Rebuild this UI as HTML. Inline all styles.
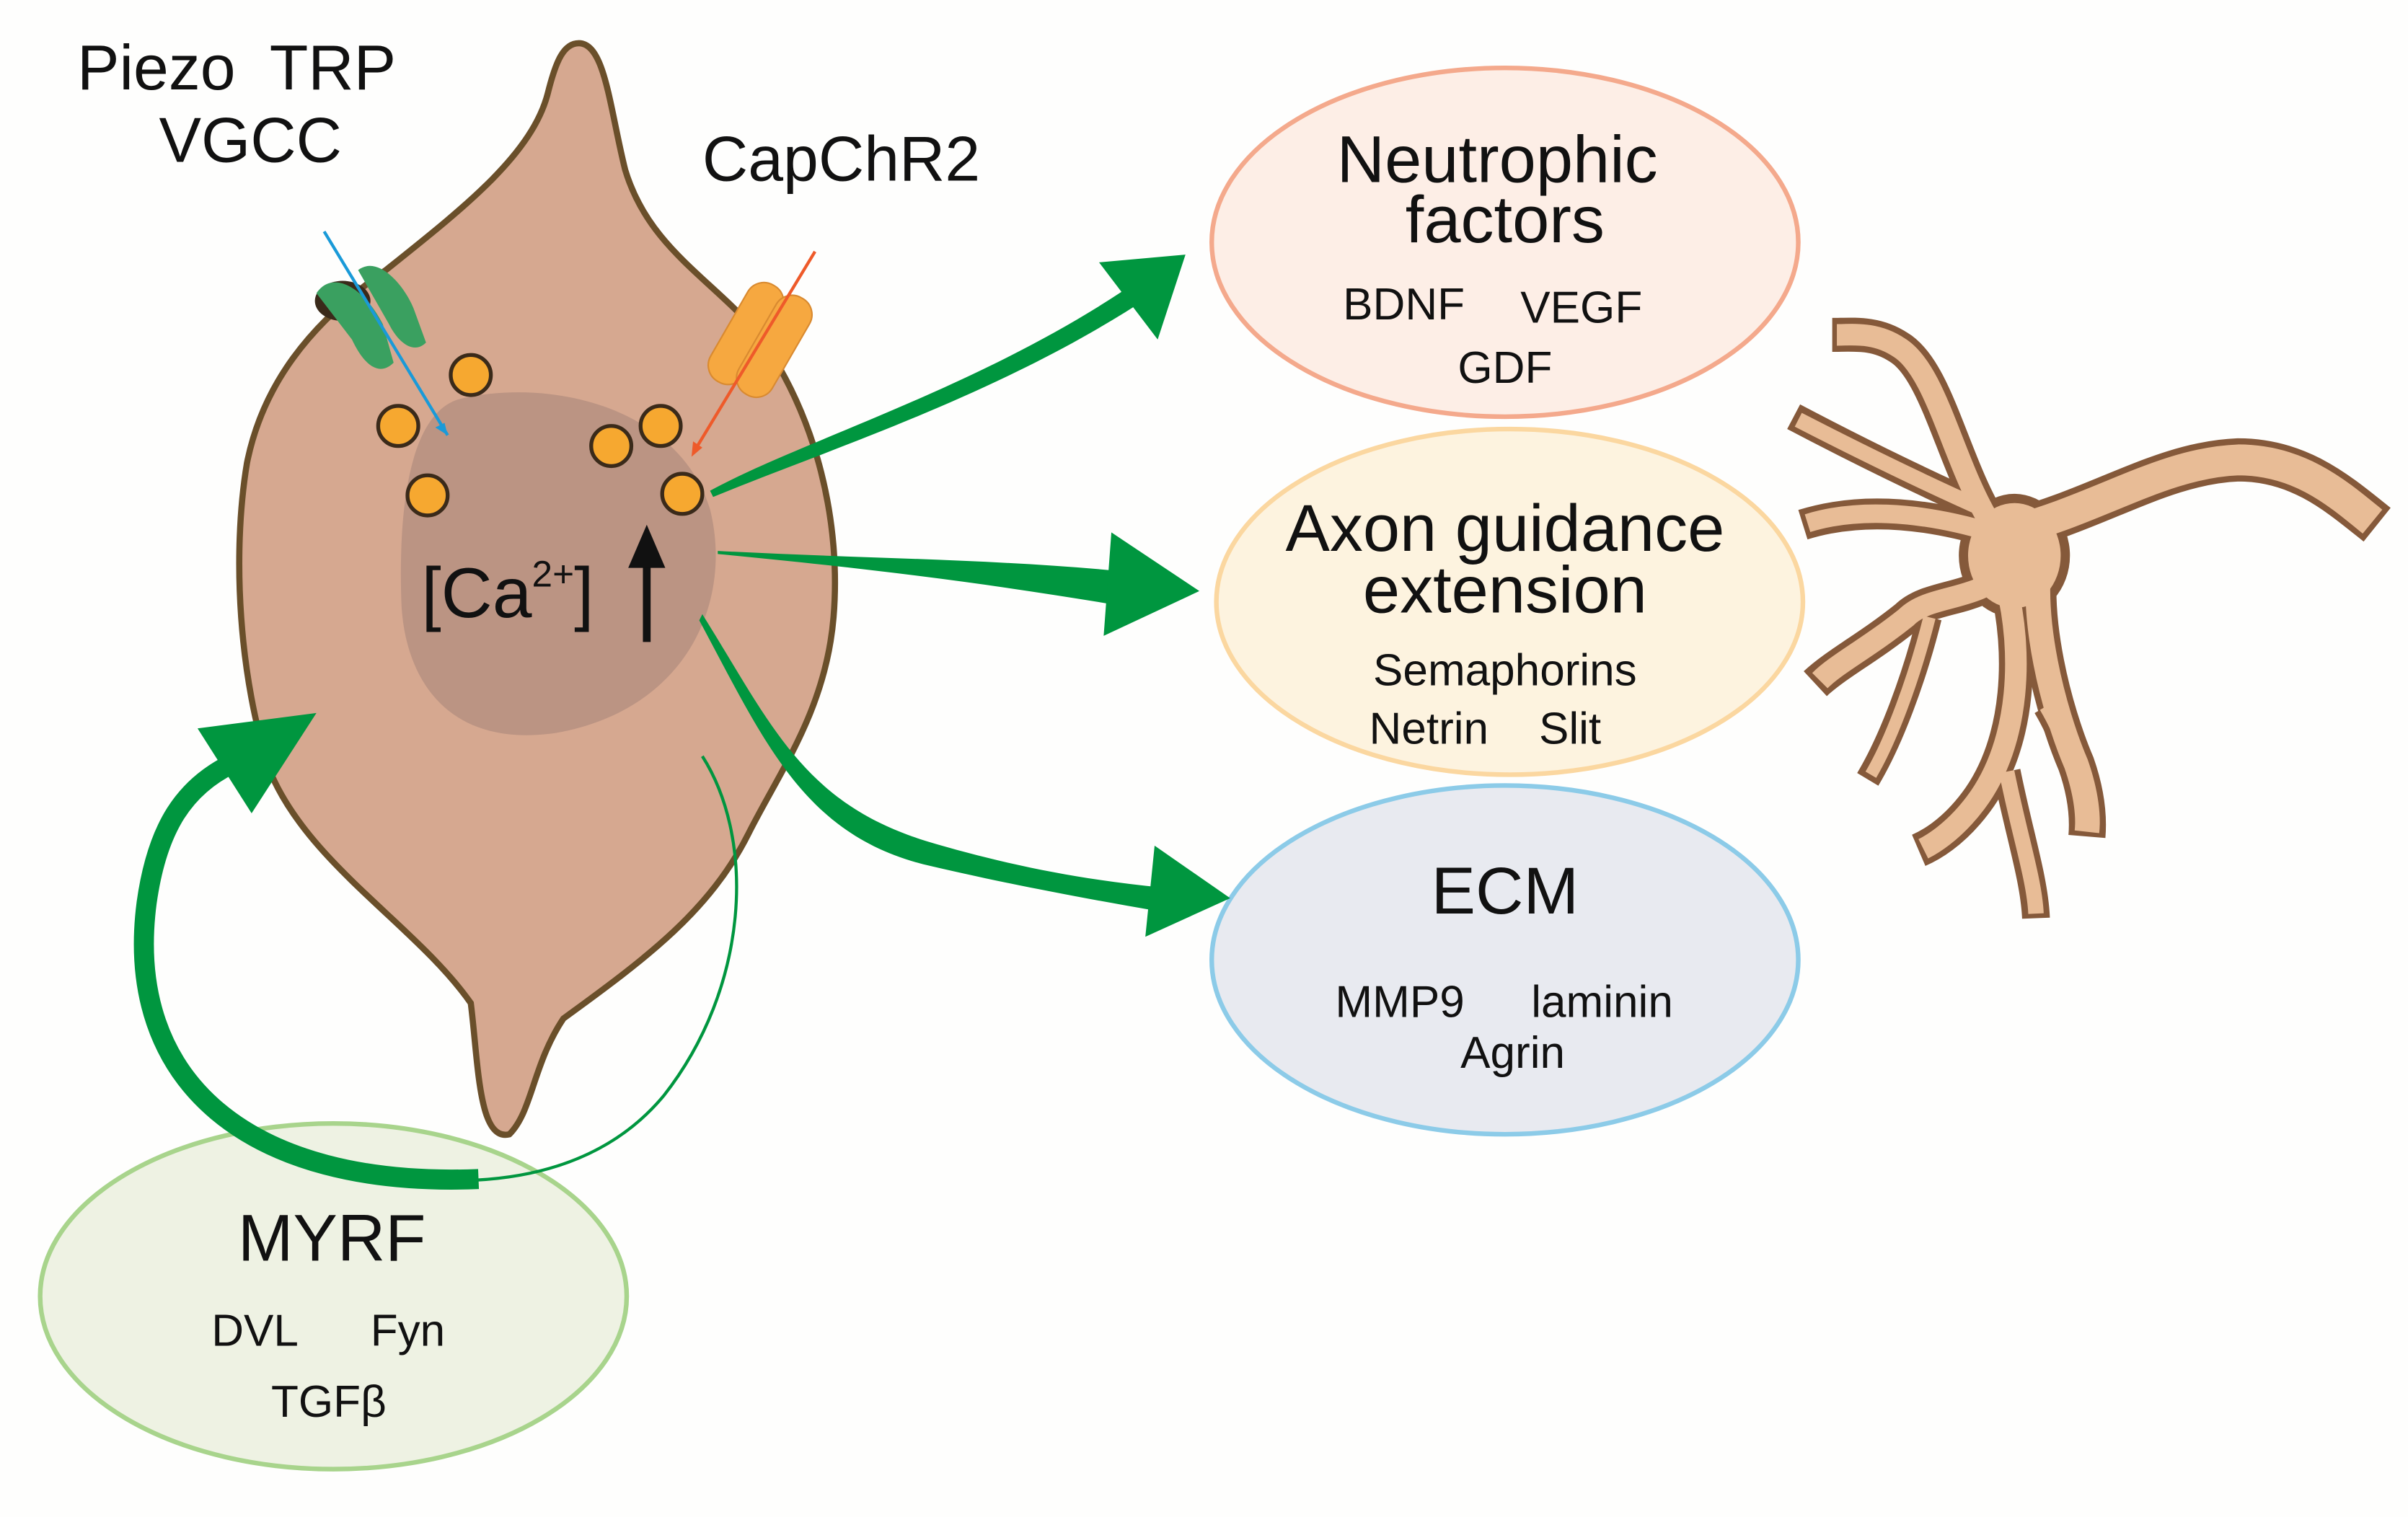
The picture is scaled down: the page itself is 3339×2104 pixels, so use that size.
<!DOCTYPE html>
<html><head><meta charset="utf-8"><style>
html,body{margin:0;padding:0;background:#fff;}
svg{display:block;}
text{font-family:"Liberation Sans",sans-serif;fill:#111;}
</style></head><body>
<svg width="3339" height="2104" viewBox="0 0 1560 983" xmlns="http://www.w3.org/2000/svg">
<rect width="1560" height="983" fill="#fefefd"/>
<ellipse cx="975" cy="157" rx="190" ry="113" fill="#fdeee6" stroke="#f4a98c" stroke-width="3"/>
<ellipse cx="978" cy="390" rx="190" ry="112" fill="#fdf3df" stroke="#fbd7a0" stroke-width="3"/>
<ellipse cx="975" cy="622" rx="190" ry="113" fill="#e8eaf0" stroke="#8ccbe8" stroke-width="3"/>
<ellipse cx="216" cy="840" rx="190" ry="112" fill="#eef2e3" stroke="#a8d48c" stroke-width="3"/>
<path d="M375,28 C392,28 395,70 405,110 C420,160 460,180 490,215 C530,270 545,340 540,400 C535,460 505,500 485,540 C460,590 420,620 365,660 C345,690 345,720 330,735 C310,740 310,690 305,650 C270,600 200,560 175,500 C155,440 150,360 160,300 C170,250 200,210 250,175 C300,135 345,100 355,60 C360,40 365,28 375,28 Z" fill="#d6a890" stroke="#6a4f2a" stroke-width="4"/>
<path d="M300,258 C360,245 440,265 460,330 C475,390 445,460 360,475 C290,485 262,440 260,390 C258,330 265,265 300,258 Z" fill="#bb9483"/>
<ellipse cx="222" cy="195" rx="18" ry="13" fill="#3a2a1a"/>
<path d="M205,190 C215,175 235,185 248,210 L255,235 C245,245 235,235 228,220 Z" fill="#3aa060"/>
<path d="M232,175 C245,165 262,185 268,200 L276,222 C268,230 258,222 252,210 Z" fill="#3aa060"/>
<g transform="rotate(30 492 220)">
<rect x="470" y="185" width="25" height="72" rx="12" fill="#f6a840" stroke="#d98a30"/>
<rect x="490" y="183" width="25" height="72" rx="12" fill="#f6a840" stroke="#d98a30"/>
</g>
<line x1="210" y1="150" x2="290" y2="282" stroke="#1a9ad8" stroke-width="2"/>
<path d="M290,282 l-8,-5 l6,-3 z" fill="#1a9ad8"/>
<line x1="528" y1="163" x2="450" y2="292" stroke="#ee5a2a" stroke-width="2"/>
<path d="M448,296 l1,-10 l6,4 z" fill="#ee5a2a"/>
<g fill="#f6a830" stroke="#3a2a1a" stroke-width="2.5">
<circle cx="305" cy="243" r="13"/><circle cx="258" cy="276" r="13"/><circle cx="277" cy="321" r="13"/>
<circle cx="396" cy="289" r="13"/><circle cx="428" cy="276" r="13"/><circle cx="442" cy="320" r="13"/>
</g>
<text x="273" y="400" font-size="46" fill="#222">[Ca<tspan font-size="24" dy="-20">2+</tspan><tspan dy="20">]</tspan></text>
<line x1="419" y1="416" x2="419" y2="358" stroke="#111" stroke-width="5"/>
<path d="M407,368 L419,340 L431,368 Z" fill="#111"/>
<g fill="#00963f">
<path d="M460,318 C520,285 640,250 740,180 L745,192 C650,255 540,290 462,322 Z"/>
<polygon points="712,170 768,165 750,220"/>
<path d="M465,357 C560,362 640,362 725,370 L723,392 C640,378 560,368 465,359 Z"/>
<polygon points="720,345 777,383 715,412"/>
<path d="M455,398 C500,470 520,520 600,545 C650,560 700,570 752,575 L748,590 C690,580 640,570 598,560 C520,540 495,480 453,402 Z"/>
<polygon points="748,548 797,582 742,607"/>
<polygon points="128,472 205,462 163,527"/>
</g>
<path d="M310,764 C160,770 80,700 95,585 C102,535 120,510 150,495" fill="none" stroke="#00963f" stroke-width="13"/>
<path d="M455,490 C490,545 485,640 430,710 C395,752 345,764 300,765" fill="none" stroke="#00963f" stroke-width="2"/>
<g fill="none" stroke-linecap="butt" stroke-linejoin="round" stroke="#85593a">
<path d="M1300,345 C1360,330 1400,300 1450,298 C1490,298 1515,320 1540,340" stroke-width="28"/>
<path d="M1290,340 C1265,300 1255,240 1230,225 C1215,215 1200,217 1187,217" stroke-width="22"/>
<path d="M1285,330 C1240,310 1200,290 1162,270" stroke-width="18"/>
<path d="M1290,345 C1240,330 1200,330 1168,340" stroke-width="20"/>
<path d="M1300,370 C1280,390 1250,385 1235,400 C1210,420 1190,430 1176,443" stroke-width="22"/>
<path d="M1250,400 C1240,440 1225,480 1210,505" stroke-width="16"/>
<path d="M1300,380 C1310,420 1310,480 1280,520 C1265,540 1250,548 1243,551" stroke-width="22"/>
<path d="M1300,500 C1308,540 1318,570 1319,595" stroke-width="18"/>
<path d="M1322,360 C1315,400 1330,460 1345,495 C1352,515 1353,530 1352,542" stroke-width="24"/>
<path d="M1325,458 C1338,480 1348,510 1352,540" stroke-width="16"/>
</g>
<ellipse cx="1305" cy="360" rx="36" ry="40" fill="#85593a"/>
<g fill="none" stroke-linecap="butt" stroke-linejoin="round" stroke="#e8bc96">
<path d="M1300,345 C1360,330 1400,300 1450,298 C1490,298 1515,320 1537,338" stroke-width="20"/>
<path d="M1290,340 C1265,300 1255,240 1230,225 C1215,215 1200,217 1190,217" stroke-width="14"/>
<path d="M1285,330 C1240,310 1200,290 1165,272" stroke-width="10"/>
<path d="M1290,345 C1240,330 1200,330 1171,339" stroke-width="12"/>
<path d="M1300,370 C1280,390 1250,385 1235,400 C1210,420 1190,430 1179,441" stroke-width="14"/>
<path d="M1250,400 C1240,440 1225,480 1212,502" stroke-width="8"/>
<path d="M1300,380 C1310,420 1310,480 1280,520 C1265,540 1250,548 1246,550" stroke-width="14"/>
<path d="M1300,500 C1308,540 1318,570 1319,592" stroke-width="10"/>
<path d="M1322,360 C1315,400 1330,460 1345,495 C1352,515 1353,530 1352,539" stroke-width="16"/>
<path d="M1325,458 C1338,480 1348,510 1352,537" stroke-width="8"/>
</g>
<ellipse cx="1305" cy="360" rx="30" ry="34" fill="#e8bc96"/>
<text x="50" y="58" font-size="41" xml:space="preserve">Piezo  TRP</text>
<text x="103" y="105" font-size="41">VGCC</text>
<text x="455" y="117" font-size="41">CapChR2</text>
<text x="970" y="118" font-size="43" text-anchor="middle">Neutrophic</text>
<text x="975" y="157" font-size="43" text-anchor="middle">factors</text>
<text x="870" y="207" font-size="29">BDNF</text>
<text x="985" y="209" font-size="29">VEGF</text>
<text x="975" y="248" font-size="29" text-anchor="middle">GDF</text>
<text x="975" y="357" font-size="43" text-anchor="middle">Axon guidance</text>
<text x="975" y="397" font-size="43" text-anchor="middle">extension</text>
<text x="975" y="444" font-size="29" text-anchor="middle">Semaphorins</text>
<text x="887" y="482" font-size="29">Netrin</text>
<text x="997" y="482" font-size="29">Slit</text>
<text x="975" y="592" font-size="43" text-anchor="middle">ECM</text>
<text x="865" y="659" font-size="29">MMP9</text>
<text x="992" y="659" font-size="29">laminin</text>
<text x="980" y="692" font-size="29" text-anchor="middle">Agrin</text>
<text x="215" y="817" font-size="43" text-anchor="middle">MYRF</text>
<text x="137" y="872" font-size="29">DVL</text>
<text x="240" y="872" font-size="29">Fyn</text>
<text x="213" y="918" font-size="29" text-anchor="middle">TGFβ</text>
</svg>
</body></html>
